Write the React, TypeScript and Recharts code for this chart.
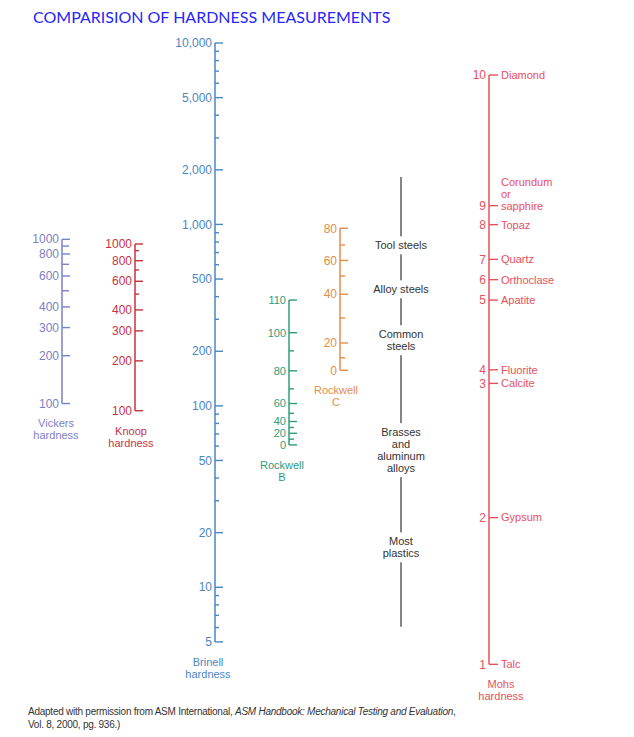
import React from "react";
import { ScatterChart, Scatter, XAxis, YAxis } from "recharts";

// Every scale is drawn against one common axis: the Brinell hardness that a
// tick lines up with (read off the reference figure).

const brinellTicks = [
  10000, 9000, 8000, 7000, 6000, 5000, 4000, 3000, 2000, 1000, 900, 800, 700,
  600, 500, 400, 300, 200, 100, 90, 80, 70, 60, 50, 40, 30, 20, 10, 9, 8, 7, 6, 5,
];
const brinellLabels = [
  "10,000", "", "", "", "", "5,000", "", "", "2,000", "1,000", "", "", "", "",
  "500", "", "", "200", "100", "", "", "", "", "50", "", "", "20", "10", "", "",
  "", "", "5",
];

const vickersAsBrinell = [828, 760, 687, 603, 520, 431, 351, 270, 189, 103];
const vickersLabels = ["1000", "", "800", "", "600", "", "400", "300", "200", "100"];

const knoopAsBrinell = [780, 717, 631, 561, 486, 413, 338, 259, 177, 94];
const knoopLabels = ["1000", "", "800", "", "600", "", "400", "300", "200", "100"];

const rockwellBAsBrinell = [383, 253, 201, 156, 124, 103, 91, 82, 76, 70.6, 65.5, 60.9];
const rockwellBLabels = ["110", "100", "", "80", "", "60", "", "40", "", "20", "", "0"];

const rockwellCAsBrinell = [952, 770, 633, 520, 412, 305, 222, 184, 157];
const rockwellCLabels = ["80", "", "60", "", "40", "", "20", "", "0"];

const mohsAsBrinell = [6660, 1269, 997, 642, 496, 383, 158, 133, 24.2, 3.76];
const mohsLabels = ["10", "9", "8", "7", "6", "5", "4", "3", "2", "1"];
const mohsMinerals = [
  ["Diamond"],
  ["Corundum", "or", "sapphire"],
  ["Topaz"],
  ["Quartz"],
  ["Orthoclase"],
  ["Apatite"],
  ["Fluorite"],
  ["Calcite"],
  ["Gypsum"],
  ["Talc"],
];

const materialRange = [1826, 6.06];
const materialAsBrinell = [767, 439, 230, 57, 16.6];
const materialNames = [
  ["Tool steels"],
  ["Alloy steels"],
  ["Common", "steels"],
  ["Brasses", "and", "aluminum", "alloys"],
  ["Most", "plastics"],
];

const FONT = "'Liberation Sans', Arial, Helvetica, sans-serif";

const scales = {
  vickers: { x: 62, color: "#7c80c6", major: 8, minor: 7, font: 12, captionDx: -6, caption: ["Vickers", "hardness"] },
  knoop: { x: 135, color: "#c8323f", major: 8, minor: 4, font: 12, captionDx: -4, caption: ["Knoop", "hardness"] },
  brinell: { x: 215, color: "#4a86c6", major: 8, minor: 4, font: 12, captionDx: -7, caption: ["Brinell", "hardness"] },
  rockwellB: { x: 289, color: "#2f9c7a", major: 8, minor: 5, font: 11, captionDx: -7, caption: ["Rockwell", "B"] },
  rockwellC: { x: 340, color: "#e38e48", major: 8, minor: 5, font: 12, captionDx: -4, caption: ["Rockwell", "C"] },
  mohs: { x: 489, color: "#e8505c", major: 9, minor: 9, font: 12, captionDx: 12, caption: ["Mohs", "hardness"] },
};
const materialsX = 401;

type Scale = (typeof scales)[keyof typeof scales];

function buildScale(scale: Scale, hb: number[], labels: string[], names?: string[][]) {
  return hb.map((v, i) => ({
    x: scale.x,
    hb: v,
    label: labels[i],
    names: names ? names[i] : null,
    last: i === hb.length - 1,
  }));
}

function renderTick(p: any, scale: Scale) {
  const { cx, cy, payload } = p;
  const len = payload.label ? scale.major : scale.minor;
  return (
    <g>
      <line x1={cx} x2={cx + len} y1={cy} y2={cy} stroke={scale.color} strokeWidth={1.4} />
      {payload.label ? (
        <text x={cx - 3} y={cy} dy="0.35em" textAnchor="end" fontSize={scale.font} fill={scale.color} fontFamily={FONT}>
          {payload.label}
        </text>
      ) : null}
      {payload.names
        ? payload.names.map((n: string, k: number) => (
            <text
              key={k}
              x={cx + len + 3}
              y={cy - (payload.names.length - 1 - k) * 12}
              dy="0.35em"
              fontSize={11}
              fill={scale.color}
              fontFamily={FONT}
            >
              {n}
            </text>
          ))
        : null}
      {payload.last
        ? scale.caption.map((c, k) => (
            <text
              key={"c" + k}
              x={cx + scale.captionDx}
              y={cy + 20 + k * 12}
              dy="0.35em"
              textAnchor="middle"
              fontSize={11}
              fill={scale.color}
              fontFamily={FONT}
            >
              {c}
            </text>
          ))
        : null}
    </g>
  );
}

function renderMaterial(p: any) {
  const { cx, cy, payload } = p;
  if (!payload.names) return <g />;
  const h = payload.names.length * 12;
  return (
    <g>
      <rect x={cx - 32} y={cy - h / 2 - 3} width={64} height={h + 6} fill="#fff" />
      {payload.names.map((n: string, k: number) => (
        <text
          key={k}
          x={cx}
          y={cy - h / 2 + 6 + k * 12}
          dy="0.35em"
          textAnchor="middle"
          fontSize={11}
          fill="#333"
          fontFamily={FONT}
        >
          {n}
        </text>
      ))}
    </g>
  );
}

export default function App() {
  const brinell = buildScale(scales.brinell, brinellTicks, brinellLabels);
  const vickers = buildScale(scales.vickers, vickersAsBrinell, vickersLabels);
  const knoop = buildScale(scales.knoop, knoopAsBrinell, knoopLabels);
  const rockB = buildScale(scales.rockwellB, rockwellBAsBrinell, rockwellBLabels);
  const rockC = buildScale(scales.rockwellC, rockwellCAsBrinell, rockwellCLabels);
  const mohs = buildScale(scales.mohs, mohsAsBrinell, mohsLabels, mohsMinerals);
  const materials = [
    { x: materialsX, hb: materialRange[0], names: null },
    ...materialAsBrinell.map((v, i) => ({ x: materialsX, hb: v, names: materialNames[i] })),
    { x: materialsX, hb: materialRange[1], names: null },
  ];

  const series: [any[], Scale][] = [
    [vickers, scales.vickers],
    [knoop, scales.knoop],
    [brinell, scales.brinell],
    [rockB, scales.rockwellB],
    [rockC, scales.rockwellC],
    [mohs, scales.mohs],
  ];

  return (
    <div style={{ position: "absolute", left: 0, top: 0, width: 634, height: 737, background: "#fff" }}>
      <div
        style={{
          position: "absolute",
          left: 33,
          top: 7,
          fontFamily: "Lato, sans-serif",
          fontSize: 16,
          color: "#2626f5",
          whiteSpace: "nowrap",
        }}
      >
        COMPARISION OF HARDNESS MEASUREMENTS
      </div>
      <ScatterChart width={634} height={737} margin={{ top: 43, right: 0, bottom: 67, left: 0 }}>
        <XAxis type="number" dataKey="x" domain={[0, 634]} hide />
        <YAxis type="number" dataKey="hb" scale="log" domain={[3.5, 10000]} hide width={0} />
        <Scatter
          data={materials}
          line={{ stroke: "#5c5c5c", strokeWidth: 1.5 }}
          lineJointType="linear"
          shape={renderMaterial}
          isAnimationActive={false}
        />
        {series.map(([data, scale], i) => (
          <Scatter
            key={i}
            data={data}
            line={{ stroke: scale.color, strokeWidth: 1.5 }}
            lineJointType="linear"
            shape={(p: any) => renderTick(p, scale)}
            isAnimationActive={false}
          />
        ))}
      </ScatterChart>
      <div
        style={{
          position: "absolute",
          left: 28,
          top: 705,
          fontFamily: FONT,
          fontSize: 10,
          letterSpacing: "-0.25px",
          lineHeight: "13px",
          color: "#333",
          width: 560,
        }}
      >
        Adapted with permission from ASM International,{" "}
        <i>ASM Handbook: Mechanical Testing and Evaluation</i>,
        <br />
        Vol. 8, 2000, pg. 936.)
      </div>
    </div>
  );
}
